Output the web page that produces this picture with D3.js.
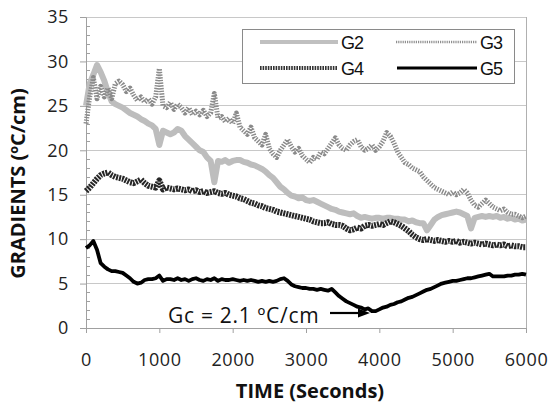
<!DOCTYPE html>
<html>
<head>
<meta charset="utf-8">
<script src="https://cdn.jsdelivr.net/npm/d3@7"></script>
<style>
  html, body { margin: 0; padding: 0; background: #fff; }
  svg { display: block; }
</style>
</head>
<body>
<svg id="chart" width="551" height="406"></svg>
<script>
// ---------- DATA ----------
const TIME = [0,50,100,150,200,250,300,350,400,450,500,550,600,650,700,750,800,850,900,950,
  1000,1050,1100,1150,1200,1250,1300,1350,1400,1450,1500,1550,1600,1650,1700,1750,1800,1850,1900,1950,
  2000,2050,2100,2150,2200,2250,2300,2350,2400,2450,2500,2550,2600,2650,2700,2750,2800,2850,2900,2950,
  3000,3050,3100,3150,3200,3250,3300,3350,3400,3450,3500,3550,3600,3650,3700,3750,3800,3850,3900,3950,
  4000,4050,4100,4150,4200,4250,4300,4350,4400,4450,4500,4550,4600,4650,4700,4750,4800,4850,4900,4950,
  5000,5050,5100,5150,5200,5250,5300,5350,5400,5450,5500,5550,5600,5650,5700,5750,5800,5850,5900,5950,6000];

const G2 = [25.0,27.5,28.5,29.6,28.8,27.8,26.5,25.5,25.2,25.0,24.8,24.5,24.2,24.0,23.8,23.5,23.3,23.0,22.8,22.4,
  20.6,22.2,22.0,21.8,22.0,22.4,22.2,21.6,21.2,20.8,20.4,20.0,19.8,19.2,18.8,16.4,18.8,18.7,18.9,18.6,
  18.8,18.9,18.9,18.7,18.6,18.4,18.3,18.1,17.9,17.6,17.2,16.9,16.4,15.9,15.6,15.2,14.9,14.8,14.6,14.7,
  14.4,14.3,14.4,14.2,14.0,13.8,13.6,13.4,13.3,13.1,13.0,12.9,12.8,12.9,12.6,12.4,12.5,12.4,12.3,12.4,
  12.4,12.3,12.4,12.4,12.3,12.3,12.2,12.2,12.0,12.1,11.9,11.8,11.8,11.0,11.6,12.2,12.5,12.7,12.8,12.9,
  13.0,13.1,13.0,12.8,12.6,11.2,12.4,12.5,12.6,12.5,12.6,12.5,12.6,12.4,12.5,12.3,12.4,12.2,12.3,12.1,12.2];

const G3 = [23.0,26.0,28.2,25.8,27.2,26.0,27.0,25.8,27.5,27.8,27.4,26.6,27.0,26.2,25.6,26.0,25.4,25.8,25.2,26.0,
  29.2,25.0,24.8,25.4,24.6,25.2,24.8,24.2,24.8,24.0,24.4,24.0,24.5,23.8,24.2,26.4,23.6,23.8,23.2,23.6,
  23.0,24.2,22.6,22.2,21.8,22.6,21.4,21.0,20.6,21.8,20.2,19.6,19.2,20.0,20.6,21.2,20.4,19.8,20.2,19.4,
  19.0,18.6,19.2,19.0,19.8,19.6,20.2,20.8,21.4,20.6,20.2,20.0,20.6,21.0,21.2,20.4,20.0,20.2,20.6,20.0,
  20.4,21.0,22.0,21.6,20.8,19.8,19.2,18.6,18.4,18.0,17.8,17.6,17.0,16.6,16.2,15.8,15.6,15.4,15.2,15.0,
  15.3,15.0,15.2,15.6,15.2,14.4,13.8,13.6,14.0,14.4,14.0,13.6,13.4,13.2,13.4,13.0,12.8,12.8,12.6,12.4,12.6];

const G4 = [15.4,15.8,16.3,16.8,17.2,17.4,17.5,17.2,17.0,16.9,16.8,16.6,16.4,16.3,16.5,16.7,16.3,16.0,15.9,15.8,
  16.6,15.6,15.8,15.7,15.6,15.7,15.6,15.5,15.6,15.4,15.5,15.3,15.4,15.2,15.3,15.4,15.2,15.1,15.2,15.0,
  14.9,14.8,14.6,14.5,14.3,14.1,14.0,13.8,13.7,13.5,13.4,13.3,13.1,13.0,12.9,12.8,12.7,12.6,12.5,12.4,
  12.3,12.2,12.0,11.9,11.8,11.8,11.9,11.7,11.6,11.6,11.5,11.2,11.0,11.1,11.3,11.2,11.5,11.6,11.5,11.6,
  11.7,11.6,11.8,12.0,11.9,11.7,11.5,11.2,10.9,10.5,10.2,10.0,9.9,10.0,9.9,9.8,9.9,9.8,9.7,9.8,
  9.7,9.8,9.6,9.7,9.6,9.5,9.6,9.5,9.4,9.5,9.4,9.3,9.4,9.3,9.4,9.2,9.3,9.2,9.2,9.1,9.1];

const G5 = [9.0,9.3,9.8,8.8,7.3,6.9,6.6,6.4,6.4,6.3,6.2,5.9,5.6,5.2,5.0,5.1,5.4,5.5,5.5,5.6,
  5.9,5.3,5.5,5.5,5.4,5.6,5.4,5.5,5.3,5.5,5.6,5.4,5.3,5.5,5.4,5.6,5.3,5.5,5.4,5.4,
  5.5,5.4,5.3,5.4,5.3,5.4,5.3,5.2,5.3,5.2,5.3,5.2,5.3,5.5,5.6,5.3,4.9,4.7,4.6,4.5,
  4.5,4.4,4.4,4.3,4.4,4.3,4.2,4.4,4.0,3.6,3.3,3.0,2.8,2.6,2.4,2.3,2.1,2.2,1.9,1.9,
  2.1,2.3,2.4,2.6,2.7,2.9,3.0,3.2,3.4,3.5,3.7,3.9,4.1,4.3,4.4,4.6,4.8,5.0,5.1,5.2,
  5.3,5.3,5.4,5.5,5.6,5.6,5.7,5.8,5.9,6.0,6.1,5.8,5.8,5.8,5.8,5.9,5.9,6.0,6.0,6.1,6.0];

const SERIES_NAMES = ["G2", "G3", "G4", "G5"];
const X_TICKS = [0,1000,2000,3000,4000,5000,6000];
const Y_TICKS = [0,5,10,15,20,25,30,35];
const X_TITLE = "TIME (Seconds)";
const Y_TITLE = "GRADIENTS (ºC/cm)";
const ANNOTATION = "Gc = 2.1 ºC/cm";
const ANNOT_POINT = [3900, 2.1];

// ---------- LAYOUT ----------
const svg = d3.select("#chart");
const L = 86, R = 526, T = 17, B = 328;
const x = d3.scaleLinear().domain([0, 6000]).range([L, R]);
const y = d3.scaleLinear().domain([0, 35]).range([B, T]);

const styles = {
  G2: { stroke: "#bdbdbd", width: 6, dash: null },
  G3: { stroke: "#8a8a8a", width: 5, dash: "1.4 1.3" },
  G4: { stroke: "#262626", width: 6, dash: "2 1" },
  G5: { stroke: "#000000", width: 3.8, dash: null }
};
const legendStyles = {
  G2: { stroke: "#c0c0c0", width: 4, dash: null },
  G3: { stroke: "#8f8f8f", width: 2.5, dash: "1.2 1" },
  G4: { stroke: "#333333", width: 4, dash: "1.6 1" },
  G5: { stroke: "#000000", width: 3, dash: null }
};
const seriesData = { G2, G3, G4, G5 };

// gridlines
svg.append("g").selectAll("line").data(Y_TICKS.filter(d => d > 0)).join("line")
  .attr("x1", L).attr("x2", R)
  .attr("y1", d => y(d)).attr("y2", d => y(d))
  .attr("stroke", "#c8c8c8").attr("stroke-width", 1).attr("shape-rendering", "crispEdges");

// right border
svg.append("line").attr("x1", R).attr("x2", R).attr("y1", T).attr("y2", B)
  .attr("stroke", "#b0b0b0").attr("shape-rendering", "crispEdges");

// Y axis
const yAxis = d3.axisLeft(y).tickValues(Y_TICKS).tickSize(6).tickPadding(11);
const gy = svg.append("g").attr("transform", `translate(${L},0)`).call(yAxis);
gy.select(".domain").attr("stroke", "#a0a0a0");
gy.selectAll(".tick line").attr("stroke", "#a0a0a0");
gy.selectAll("text").attr("font-family", "'Open Sans', sans-serif").attr("font-size", 18)
  .attr("letter-spacing", "0.6px").attr("fill", "#222");
// minor ticks inside
const minor = d3.range(0, 36).filter(v => v % 5 !== 0);
svg.append("g").selectAll("line").data(minor).join("line")
  .attr("x1", L).attr("x2", L + 4)
  .attr("y1", d => Math.round(y(d)) + 0.5).attr("y2", d => Math.round(y(d)) + 0.5)
  .attr("stroke", "#a0a0a0");

// X axis
const xAxis = d3.axisBottom(x).tickValues(X_TICKS).tickSize(5).tickPadding(20).tickFormat(d3.format("d"));
const gx = svg.append("g").attr("transform", `translate(0,${B})`).call(xAxis);
gx.select(".domain").attr("stroke", "#a0a0a0");
gx.selectAll(".tick line").attr("stroke", "#a0a0a0");
gx.selectAll("text").attr("font-family", "'Open Sans', sans-serif").attr("font-size", 18)
  .attr("letter-spacing", "0.6px").attr("fill", "#222");

// lines
const line = d3.line().x((d, i) => x(TIME[i])).y(d => y(d));
SERIES_NAMES.forEach(name => {
  const s = styles[name];
  svg.append("path").datum(seriesData[name])
    .attr("d", line)
    .attr("fill", "none")
    .attr("stroke", s.stroke)
    .attr("stroke-width", s.width)
    .attr("stroke-linejoin", "round")
    .attr("stroke-dasharray", s.dash);
});

// annotation
const ax = x(ANNOT_POINT[0]), ay = y(ANNOT_POINT[1]);
svg.append("text").attr("x", 168).attr("y", 323)
  .attr("font-family", "'Open Sans', sans-serif").attr("font-size", 21)
  .attr("letter-spacing", "0.7px").attr("fill", "#111").text(ANNOTATION);
svg.append("line").attr("x1", 330).attr("x2", ax - 10).attr("y1", 313).attr("y2", 313)
  .attr("stroke", "#000").attr("stroke-width", 2.2);
svg.append("path")
  .attr("d", `M${ax - 14},308.5 L${ax - 2},313 L${ax - 14},317.5 Z`)
  .attr("fill", "#000");

// legend
const lg = svg.append("g");
lg.append("rect").attr("x", 242.5).attr("y", 29.5).attr("width", 272).attr("height", 54)
  .attr("fill", "#fff").attr("stroke", "#8a8a8a").attr("stroke-width", 1);
const legendPos = {
  G2: { x1: 260, x2: 338, y: 42 },
  G3: { x1: 396, x2: 477, y: 42 },
  G4: { x1: 260, x2: 338, y: 68 },
  G5: { x1: 397, x2: 477, y: 68 }
};
SERIES_NAMES.forEach(name => {
  const p = legendPos[name], s = legendStyles[name];
  lg.append("line").attr("x1", p.x1).attr("x2", p.x2).attr("y1", p.y).attr("y2", p.y)
    .attr("stroke", s.stroke).attr("stroke-width", s.width).attr("stroke-dasharray", s.dash);
  lg.append("text").attr("x", p.x2 + 3).attr("y", p.y + 6.5)
    .attr("font-family", "'Liberation Sans', Arial, sans-serif").attr("font-size", 18)
    .attr("letter-spacing", "-1px").attr("fill", "#111").text(name);
});

// axis titles
svg.append("text").attr("x", (L + R) / 2 + 4).attr("y", 398).attr("text-anchor", "middle")
  .attr("font-family", "'Open Sans', sans-serif").attr("font-weight", "bold").attr("font-size", 20)
  .attr("fill", "#111").text(X_TITLE);
svg.append("text").attr("transform", "translate(25,183.5) rotate(-90)").attr("text-anchor", "middle")
  .attr("font-family", "'Open Sans', sans-serif").attr("font-weight", "bold").attr("font-size", 20)
  .attr("fill", "#111").text(Y_TITLE);
</script>
</body>
</html>
